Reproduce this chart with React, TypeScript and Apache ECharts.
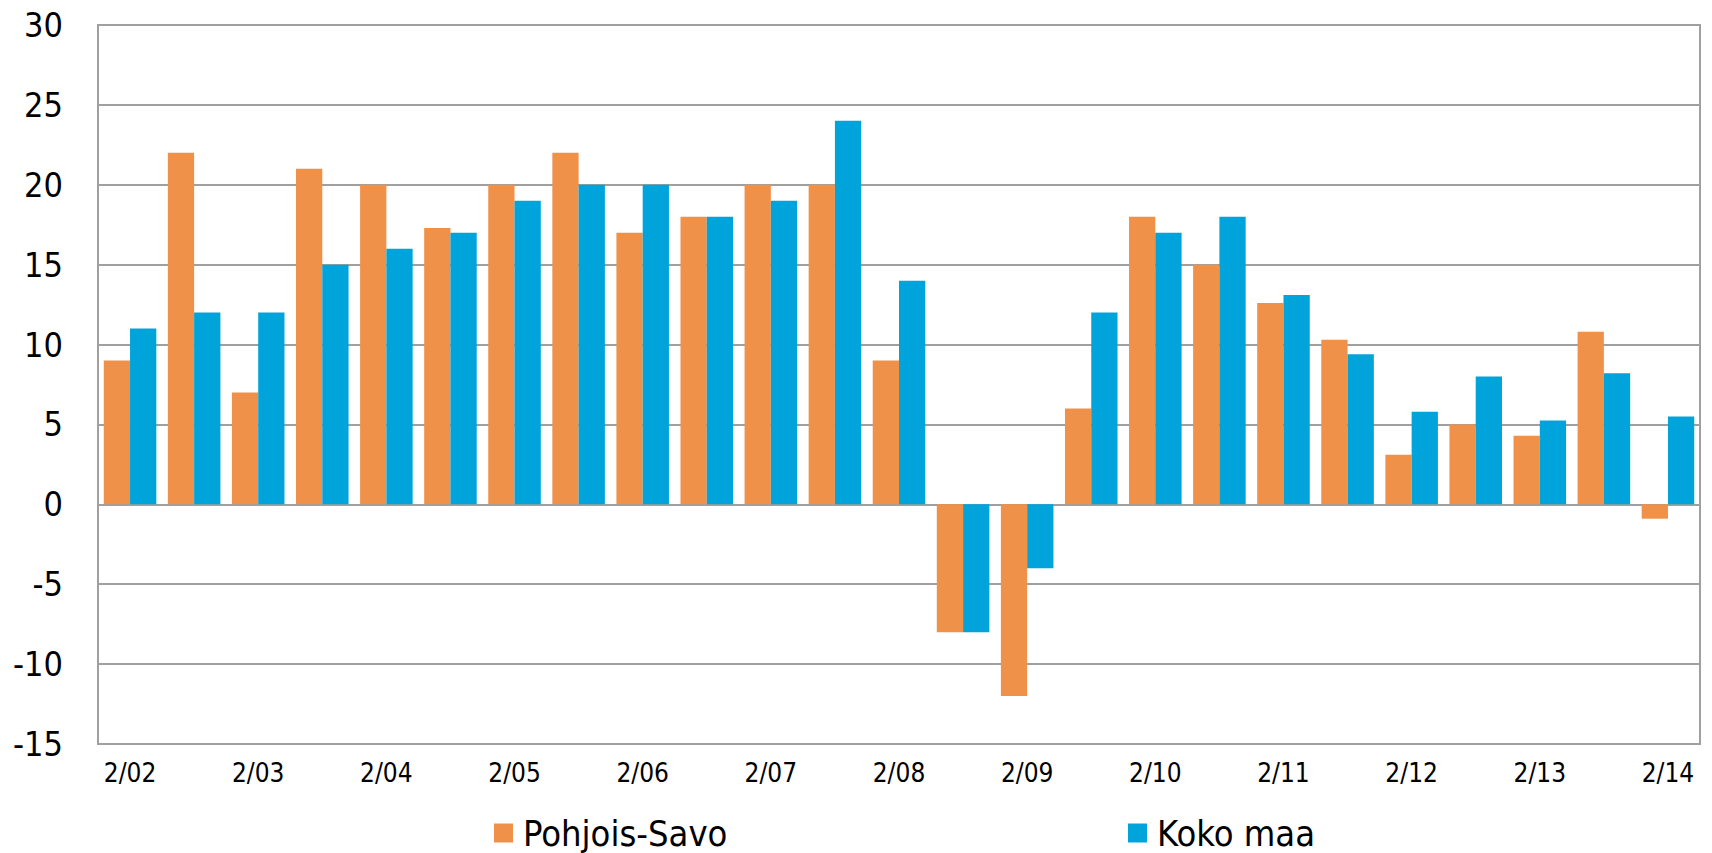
import React, { useEffect, useRef } from "react";
import * as echarts from "echarts";

const categories = [
  "2/02", "4/02", "2/03", "4/03", "2/04", "4/04", "2/05", "4/05", "2/06", "4/06",
  "2/07", "4/07", "2/08", "4/08", "2/09", "4/09", "2/10", "4/10", "2/11", "4/11",
  "2/12", "4/12", "2/13", "4/13", "2/14",
];
const pohjoisSavo = [
  9, 22, 7, 21, 20, 17.3, 20, 22, 17, 18,
  20, 20, 9, -8, -12, 6, 18, 15, 12.6, 10.3,
  3.1, 5, 4.3, 10.8, -0.9,
];
const kokoMaa = [
  11, 12, 12, 15, 16, 17, 19, 20, 20, 18,
  19, 24, 14, -8, -4, 12, 17, 18, 13.1, 9.4,
  5.8, 8, 5.25, 8.2, 5.5,
];
const seriesNames = ["Pohjois-Savo", "Koko maa"];
const colors = ["#F0914A", "#00A3DA"];

const FONT = "'DejaVu Sans Condensed', 'Liberation Sans', sans-serif";

export default function App() {
  const ref = useRef<HTMLDivElement>(null);
  useEffect(() => {
    if (!ref.current) return;
    const chart = echarts.init(ref.current, null, { renderer: "svg" });
    const legendCommon = {
      orient: "horizontal",
      icon: "rect",
      itemWidth: 19,
      itemHeight: 19,
      itemGap: 10,
      top: 815,
      padding: 0,
      textStyle: {
        fontSize: 36,
        lineHeight: 36,
        color: "#000",
        fontFamily: FONT,
        padding: [0, 0, 0, 5],
      },
      selectedMode: false,
    };
    chart.setOption({
      animation: false,
      backgroundColor: "#fff",
      color: colors,
      textStyle: { fontFamily: FONT },
      grid: {
        left: 98,
        right: 12,
        top: 25,
        bottom: 109,
        containLabel: false,
        outerBoundsMode: "none",
        show: true,
        borderColor: "#a0a0a0",
        borderWidth: 2,
      },
      legend: [
        { ...legendCommon, left: 494, data: [seriesNames[0]] },
        { ...legendCommon, left: 1128, data: [seriesNames[1]] },
      ],
      xAxis: {
        type: "category",
        data: categories,
        axisLine: { onZero: false, lineStyle: { color: "#a0a0a0", width: 2 } },
        axisTick: { show: false },
        axisLabel: {
          interval: 1,
          fontSize: 26,
          color: "#000",
          fontFamily: FONT,
          margin: 16,
        },
      },
      yAxis: {
        type: "value",
        min: -15,
        max: 30,
        interval: 5,
        axisLine: { show: true, lineStyle: { color: "#a0a0a0", width: 2 } },
        axisTick: { show: false },
        splitLine: { lineStyle: { color: "#a0a0a0", width: 2 } },
        axisLabel: { fontSize: 34, color: "#000", fontFamily: FONT, margin: 35 },
      },
      series: [
        {
          name: seriesNames[0],
          type: "bar",
          data: pohjoisSavo,
          barGap: "0%",
          barCategoryGap: "18%",
          itemStyle: { color: colors[0] },
        },
        {
          name: seriesNames[1],
          type: "bar",
          data: kokoMaa,
          barGap: "0%",
          barCategoryGap: "18%",
          itemStyle: { color: colors[1] },
        },
      ],
    });
    return () => chart.dispose();
  }, []);
  return (
    <div
      ref={ref}
      style={{ position: "fixed", left: 0, top: 0, width: 1712, height: 853 }}
    />
  );
}
